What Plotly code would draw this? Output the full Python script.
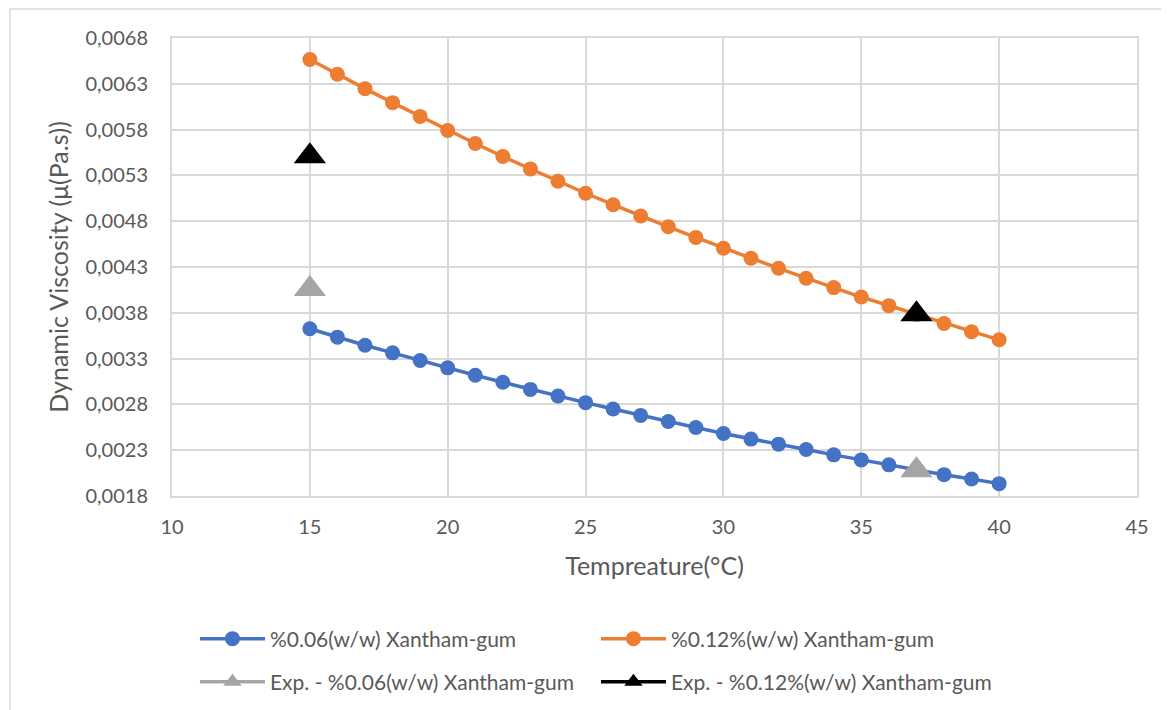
import plotly.graph_objects as go

temps = list(range(15, 41))
visc_006 = [0.003626, 0.003534, 0.003446, 0.003363, 0.003279, 0.003199, 0.003118, 0.003041,
            0.002964, 0.002892, 0.002819, 0.002750, 0.002680, 0.002614, 0.002548, 0.002482,
            0.002421, 0.002366, 0.002307, 0.002249, 0.002194, 0.002140, 0.002090, 0.002033,
            0.001986, 0.001935]
visc_012 = [0.006565, 0.006404, 0.006247, 0.006094, 0.005944, 0.005790, 0.005648, 0.005506,
            0.005371, 0.005236, 0.005105, 0.004980, 0.004856, 0.004739, 0.004623, 0.004505,
            0.004396, 0.004286, 0.004177, 0.004075, 0.003972, 0.003878, 0.003783, 0.003684,
            0.003593, 0.003505]
exp_temps = [15, 37]
exp_006 = [0.004059, 0.002082]
exp_012 = [0.005508, 0.003783]

names = ["%0.06(w/w) Xantham-gum", "%0.12%(w/w) Xantham-gum",
         "Exp. - %0.06(w/w) Xantham-gum", "Exp. - %0.12%(w/w) Xantham-gum"]
y_ticks = [0.0018, 0.0023, 0.0028, 0.0033, 0.0038, 0.0043, 0.0048, 0.0053, 0.0058, 0.0063, 0.0068]
x_ticks = [10, 15, 20, 25, 30, 35, 40, 45]

FONT = "Lato"
TXT = "#595959"
GRID = "#d9d9d9"
C_BLUE, C_ORANGE, C_GRAY, C_BLACK = "#4472c4", "#ed7d31", "#a5a5a5", "#000000"

fig = go.Figure()
fig.add_trace(go.Scatter(x=temps, y=visc_006, name=names[0], mode="lines+markers", legend="legend",
                         line=dict(color=C_BLUE, width=3.5),
                         marker=dict(symbol="circle", size=15, color=C_BLUE)))
fig.add_trace(go.Scatter(x=temps, y=visc_012, name=names[1], mode="lines+markers", legend="legend",
                         line=dict(color=C_ORANGE, width=3.5),
                         marker=dict(symbol="circle", size=15, color=C_ORANGE)))
fig.add_trace(go.Scatter(x=exp_temps, y=exp_006, name=names[2], mode="markers", showlegend=False,
                         marker=dict(symbol="triangle-up", size=28, color=C_GRAY)))
fig.add_trace(go.Scatter(x=exp_temps, y=exp_012, name=names[3], mode="markers", showlegend=False,
                         marker=dict(symbol="triangle-up", size=28, color=C_BLACK)))
# legend entries for the experimental series (Excel shows a line swatch with the marker)
fig.add_trace(go.Scatter(x=[None], y=[None], name=names[2], mode="lines+markers", legend="legend2",
                         line=dict(color=C_GRAY, width=3.5),
                         marker=dict(symbol="triangle-up", size=17, color=C_GRAY)))
fig.add_trace(go.Scatter(x=[None], y=[None], name=names[3], mode="lines+markers", legend="legend2",
                         line=dict(color=C_BLACK, width=3.5),
                         marker=dict(symbol="triangle-up", size=17, color=C_BLACK)))

leg_common = dict(orientation="h", x=0.0238, xanchor="left", yanchor="middle",
                  entrywidth=321, font=dict(size=21, color=TXT, family=FONT), itemwidth=65,
                  bgcolor="rgba(0,0,0,0)")

fig.update_layout(
    width=1169, height=710,
    margin=dict(l=164, r=40, t=30, b=222),
    paper_bgcolor="white", plot_bgcolor="white",
    separators=",.",
    font=dict(family=FONT, size=20, color=TXT),
    showlegend=True,
    legend=dict(y=-0.3122, **leg_common),
    legend2=dict(y=-0.4061, **leg_common),
    shapes=[dict(type="rect", xref="paper", yref="paper",
                 x0=-0.1679, x1=1.3, y0=-0.8, y1=1.0633,
                 line=dict(color="#d9d9d9", width=1.5), layer="below")],
)
fig.update_xaxes(range=[10, 45], tickvals=x_ticks, showgrid=True, gridcolor=GRID, gridwidth=2,
                 showline=True, linecolor=GRID, linewidth=2, mirror=True, zeroline=False,
                 ticks="", ticklabelstandoff=12,
                 title=dict(text="Tempreature(°C)", standoff=20, font=dict(size=25, color=TXT)),
                 tickfont=dict(size=20, color=TXT))
fig.update_yaxes(range=[0.0018, 0.0068], tickvals=y_ticks, tickformat=".4f", showgrid=True,
                 gridcolor=GRID, gridwidth=2, showline=True, linecolor=GRID, linewidth=2,
                 mirror=True, zeroline=False, ticks="", ticklabelstandoff=18,
                 title=dict(text="Dynamic Viscosity (μ(Pa.s))", standoff=10, font=dict(size=25, color=TXT)),
                 tickfont=dict(size=20, color=TXT))

fig.write_html("out.html")
